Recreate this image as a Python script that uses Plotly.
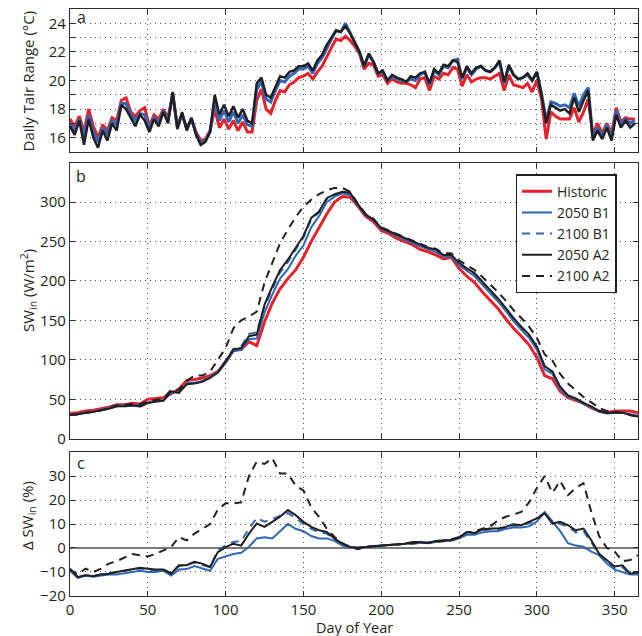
import plotly.graph_objects as go

# ---------------- data ----------------
days_a = list(range(0, 366, 3))
days_bc = list(range(0, 366, 5))

a_hist = [17.3,16.8,17.5,16.4,18.0,16.8,16.0,16.9,16.5,17.4,17.2,18.6,18.8,17.8,17.5,17.9,18.1,16.8,17.6,17.3,
          18.0,17.4,19.0,16.8,17.6,16.7,17.3,16.4,15.8,15.9,16.5,18.0,16.7,17.3,16.6,17.2,16.5,17.1,16.4,16.4,
          18.6,19.4,18.0,17.7,18.6,19.3,19.2,19.7,19.9,20.2,20.3,20.5,20.1,20.6,21.0,21.7,22.3,22.9,22.8,23.1,
          22.8,22.4,21.9,20.8,21.2,21.1,20.3,20.4,19.8,20.1,19.9,19.8,19.8,19.7,19.5,20.1,20.2,19.3,20.3,20.1,
          20.5,20.4,20.9,20.8,19.6,20.4,19.9,20.1,20.2,20.2,20.1,20.3,20.5,19.3,20.4,19.7,19.6,19.5,19.8,19.2,
          20.0,18.7,15.9,17.8,17.5,17.3,17.3,17.3,18.1,17.1,17.8,18.7,16.2,17.0,16.3,17.0,16.3,18.1,17.1,17.4,
          17.3,17.3]
a_b1 = [17.0,16.5,17.3,16.0,17.6,16.4,15.7,16.7,16.2,17.2,16.9,18.4,18.4,17.6,17.2,17.7,17.6,16.6,17.4,17.0,
        17.9,17.2,19.1,16.7,17.7,16.6,17.3,16.3,15.6,15.8,16.4,18.6,17.2,17.9,17.1,17.8,17.0,17.6,16.9,16.8,
        19.4,19.9,18.7,18.5,19.3,20.0,19.9,20.3,20.5,20.8,20.8,21.0,20.5,21.2,21.6,22.3,22.9,23.5,23.4,24.0,
        23.3,22.6,22.0,21.0,21.8,21.3,20.5,20.6,20.0,20.3,20.1,20.0,19.9,20.1,20.0,20.4,20.6,19.7,20.7,20.4,
        21.0,20.9,21.4,21.5,20.1,20.9,20.4,20.8,21.0,20.7,20.6,20.9,21.3,19.8,21.0,20.4,20.1,20.2,20.4,20.0,
        20.6,19.1,17.2,18.5,18.4,18.2,18.3,18.1,19.1,18.2,19.0,19.5,16.0,16.7,16.1,16.9,16.0,17.9,16.9,17.3,
        17.0,17.2]
a_a2 = [16.8,16.2,17.2,15.5,17.3,16.0,15.3,16.5,15.8,17.0,16.5,18.3,18.0,17.4,16.8,17.6,17.2,16.4,17.3,16.8,
        17.8,17.0,19.2,16.6,17.8,16.5,17.4,16.2,15.5,15.7,16.4,19.0,17.6,18.3,17.5,18.2,17.4,18.0,17.2,17.0,
        19.8,20.2,19.0,18.8,19.6,20.3,20.2,20.6,20.7,21.0,21.0,21.2,20.7,21.4,21.8,22.5,23.0,23.5,23.4,23.8,
        23.3,22.6,22.0,21.0,21.9,21.3,20.5,20.7,20.0,20.4,20.2,20.1,19.9,20.3,20.2,20.5,20.6,19.8,20.8,20.5,
        21.1,21.0,21.4,21.3,20.2,21.0,20.5,20.9,21.0,20.7,20.6,20.9,21.4,19.9,21.1,20.4,20.1,20.2,20.5,20.0,
        20.6,19.0,17.0,18.3,18.1,17.9,18.0,17.7,18.8,17.8,18.6,19.3,15.8,16.5,15.9,16.7,15.8,17.6,16.7,17.2,
        16.7,17.0]

b_hist = [32,33,35,36,38,40,43,43,45,44,50,51,52,57,63,74,75,77,80,85,
          97,112,113,123,118,148,172,190,203,214,230,250,268,285,300,307,306,295,282,275,
          264,260,254,250,246,240,237,233,228,230,216,206,198,186,176,165,152,140,130,119,
          103,80,76,60,52,48,45,39,35,33,35,35,35,33]
b_b1 = [30,31,33,34,37,39,42,42,43,42,46,48,49,58,59,70,71,73,78,84,
        96,111,113,126,127,160,183,203,215,232,245,268,282,300,307,311,309,296,283,277,
        266,262,257,253,248,244,240,237,231,231,220,213,206,195,185,174,162,149,138,128,
        113,88,82,63,53,50,44,40,34,32,33,33,31,29]
b_b1_2100 = [30,31,33,34,36,38,41,41,42,41,45,47,48,59,59,70,71,73,78,85,
             99,114,117,133,135,168,190,211,224,240,255,278,287,304,309,312,311,297,284,278,
             267,263,258,254,249,245,241,239,232,232,222,215,209,198,188,177,165,152,141,131,
             116,92,85,65,55,51,45,40,35,33,33,33,30,28]
b_a2 = [30,31,33,34,36,38,41,41,42,41,45,47,48,60,58,69,70,72,77,84,
        98,113,115,130,132,170,193,214,227,242,257,280,288,305,310,313,312,297,284,278,
        267,263,259,255,250,246,242,240,233,233,223,216,210,199,189,178,166,153,142,132,
        117,92,85,66,55,51,45,41,35,33,33,33,30,28]
b_a2_2100 = [30,31,33,34,36,39,42,43,44,44,47,49,51,62,62,73,80,80,85,100,
             115,140,150,155,161,198,224,248,265,281,294,303,310,315,318,318,313,298,285,279,
             268,264,260,256,251,247,243,241,235,235,226,220,214,205,196,186,175,163,153,142,
             128,107,99,82,70,61,53,46,39,35,34,33,30,28]

c_b1 = [-9.5,-12.5,-11.5,-12,-11.5,-11,-11,-10.5,-10,-9.5,-10,-10,-9.5,-11.5,-9,-8.8,-7.5,-8.5,-9.5,-4.5,
        -3.5,-2.5,-2,0.5,4,4.5,4,7,10,8,7,5,4,4,3,1,0,0,0.5,0.8,
        1,1.2,1.5,1.6,2,2.2,2,2.5,3,3,4,5.5,5.5,6.5,7,7,8,8.5,8.5,9,
        11,15,11,7,2,1,0.5,-1.5,-3,-6.5,-9,-10,-11,-11]
c_b1_2100 = [-9,-12,-11.5,-11.5,-11,-10.5,-10,-9.5,-9,-8.5,-9,-9.5,-9,-10.5,-7.5,-7,-6,-7,-8,-1,
             1,2.5,3,8,12.5,11,12,13.5,14.5,12.5,10,8,6.5,6,3.5,1.5,0.2,0,0.4,0.7,
             1,1.3,1.5,1.7,2.3,2.4,2,2.8,3.1,3.3,4.5,6.5,6.2,7.3,7.8,7.8,8.5,9.3,9.3,10.3,
             12,15,11,10,9,6.5,7,2.5,-3,-6,-8.5,-8,-11,-10.5]
c_a2 = [-8.6,-12.1,-11.4,-11.8,-11.0,-10.7,-10.0,-9.3,-8.6,-8.2,-8.6,-9.0,-9.0,-10.7,-7.2,-7.2,-5.8,-6.5,-7.9,-1.7,
        0.4,1.8,1.0,6.0,10.2,8.8,10.9,13.0,15.8,13.7,10.9,8.8,7.4,6.7,3.9,1.8,0.4,0.2,0.4,0.7,
        1.1,1.4,1.5,1.8,2.5,2.5,2.1,2.9,3.2,3.2,4.3,6.7,6.3,7.7,8.1,8.1,8.8,9.9,9.5,10.9,
        12.3,14.4,10.2,10.9,9.5,7.4,8.1,3.2,-2.4,-5.1,-7.7,-7.2,-10.7,-10.0]
c_a2_2100 = [-9,-11,-8.6,-10,-8.6,-6.5,-5.5,-4,-2.5,-3,-3.5,-2.5,-1,0.4,4.5,3.2,6,8,10,16,
             18.6,18.6,19,30,36,35,37.4,31,31,26,24,17,13,8,4.6,2,0.4,-0.5,0.5,0.8,
             1,1.1,1.2,1.5,1.8,2,2,2.5,2.8,3.5,4.5,6.5,7,8,9,11.5,13,14,15,19,
             25,30,23,28,22,25,27,15,5,0,-1.5,-5.5,-5,-3]

series_names = ["Historic", "2050 B1", "2100 B1", "2050 A2", "2100 A2"]
x_ticks = [0, 50, 100, 150, 200, 250, 300, 350]

# ---------------- styles ----------------
RED = "#e8212b"
BLUE = "#2f67b4"
BLACK = "#231f20"
DASH = "8px,6px"
FONT = "Open Sans"

fig = go.Figure()

def add(x, y, name, color, width, dash, xa, ya, legend):
    fig.add_trace(go.Scatter(x=x, y=y, mode="lines", name=name, showlegend=legend,
                             line=dict(color=color, width=width, dash=dash),
                             xaxis=xa, yaxis=ya, hoverinfo="skip"))

# panel a
add(days_a, a_hist, series_names[0], RED, 3, "solid", "x", "y", False)
add(days_a, a_b1, series_names[1], BLUE, 3, "solid", "x", "y", False)
add(days_a, a_a2, series_names[3], BLACK, 2.5, "solid", "x", "y", False)

# panel b
add(days_bc, b_hist, series_names[0], RED, 3, "solid", "x2", "y2", True)
add(days_bc, b_b1, series_names[1], BLUE, 2, "solid", "x2", "y2", True)
add(days_bc, b_b1_2100, series_names[2], BLUE, 2, DASH, "x2", "y2", True)
add(days_bc, b_a2, series_names[3], BLACK, 2, "solid", "x2", "y2", True)
add(days_bc, b_a2_2100, series_names[4], BLACK, 2, DASH, "x2", "y2", True)

# panel c
add(days_bc, c_b1, series_names[1], BLUE, 2, "solid", "x3", "y3", False)
add(days_bc, c_b1_2100, series_names[2], BLUE, 2, DASH, "x3", "y3", False)
add(days_bc, c_a2, series_names[3], BLACK, 2, "solid", "x3", "y3", False)
add(days_bc, c_a2_2100, series_names[4], BLACK, 2, DASH, "x3", "y3", False)

axcol = "#2b2b2b"
gridcol = "#555555"
griddash = "1px,4px"
TICKFONT = dict(family=FONT, size=15, color="#231f20")

def xax(anchor, labels):
    return dict(domain=[0, 1], anchor=anchor, range=[0, 365], tickvals=x_ticks,
                showticklabels=labels, ticks="inside", ticklen=5, tickcolor=axcol,
                showline=True, linecolor=axcol, linewidth=1.3, mirror="ticks",
                showgrid=True, gridcolor=gridcol, griddash=griddash, gridwidth=1,
                zeroline=False, tickfont=TICKFONT)

def yax(anchor, dom, rng, tv):
    return dict(domain=dom, anchor=anchor, range=rng, tickvals=tv,
                ticks="inside", ticklen=5, tickcolor=axcol,
                showline=True, linecolor=axcol, linewidth=1.3, mirror="ticks",
                showgrid=True, gridcolor=gridcol, griddash=griddash, gridwidth=1,
                zeroline=False, tickfont=TICKFONT)

ya = yax("x", [0.7564, 1.0], [15, 25], [16, 18, 20, 22, 24])
ya["minor"] = dict(tickvals=[15, 17, 19, 21, 23, 25], ticks="inside", ticklen=5, tickcolor=axcol,
                   showgrid=True, gridcolor=gridcol, griddash=griddash, gridwidth=1)
yb = yax("x2", [0.268, 0.7382], [0, 350], [0, 50, 100, 150, 200, 250, 300])
yc = yax("x3", [0.0, 0.2453], [-20, 40], [-20, -10, 0, 10, 20, 30])
yc["zeroline"] = True
yc["zerolinecolor"] = "#7a7a7a"
yc["zerolinewidth"] = 1.5

xa = xax("y", False)
xb = xax("y2", False)
xc = xax("y3", True)

fig.update_layout(
    width=642, height=636,
    margin=dict(l=70, r=4, t=9, b=40),
    paper_bgcolor="white", plot_bgcolor="white",
    xaxis=xa, yaxis=ya, xaxis2=xb, yaxis2=yb, xaxis3=xc, yaxis3=yc,
    showlegend=True,
    legend=dict(x=0.9625, y=0.7184, xanchor="right", yanchor="top",
                bgcolor="white", bordercolor="#231f20", borderwidth=1.3,
                font=dict(family=FONT, size=14, color="#231f20"),
                tracegroupgap=0, itemwidth=30),
)

title_font = dict(family=FONT, size=15, color="#231f20")
ann = [
    dict(text="Daily Tair Range (°C)", x=-0.074, y=(596 - 80.5) / 587),
    dict(text="SW<sub>in</sub> (W/m<sup>2</sup>)", x=-0.074, y=(596 - 290) / 587),
    dict(text="Δ SW<sub>in</sub> (%)", x=-0.074, y=(596 - 515) / 587),
]
for a in ann:
    fig.add_annotation(text=a["text"], x=a["x"], y=a["y"], xref="paper", yref="paper",
                       textangle=-90, showarrow=False, font=title_font,
                       xanchor="center", yanchor="middle")

# x-axis title placed just below the tick labels
fig.add_annotation(text="Day of Year", x=0.5, y=(596 - 627) / 587, xref="paper", yref="paper",
                   showarrow=False, font=dict(family=FONT, size=14.5, color="#231f20"),
                   xanchor="center", yanchor="middle")

for lab, yy in [("a", 17), ("b", 176), ("c", 463)]:
    fig.add_annotation(text=lab, x=(81 - 70) / 568, y=(596 - yy) / 587, xref="paper", yref="paper",
                       showarrow=False, font=dict(family=FONT, size=16, color="#231f20"),
                       xanchor="center", yanchor="middle")

fig.write_html("out.html")
